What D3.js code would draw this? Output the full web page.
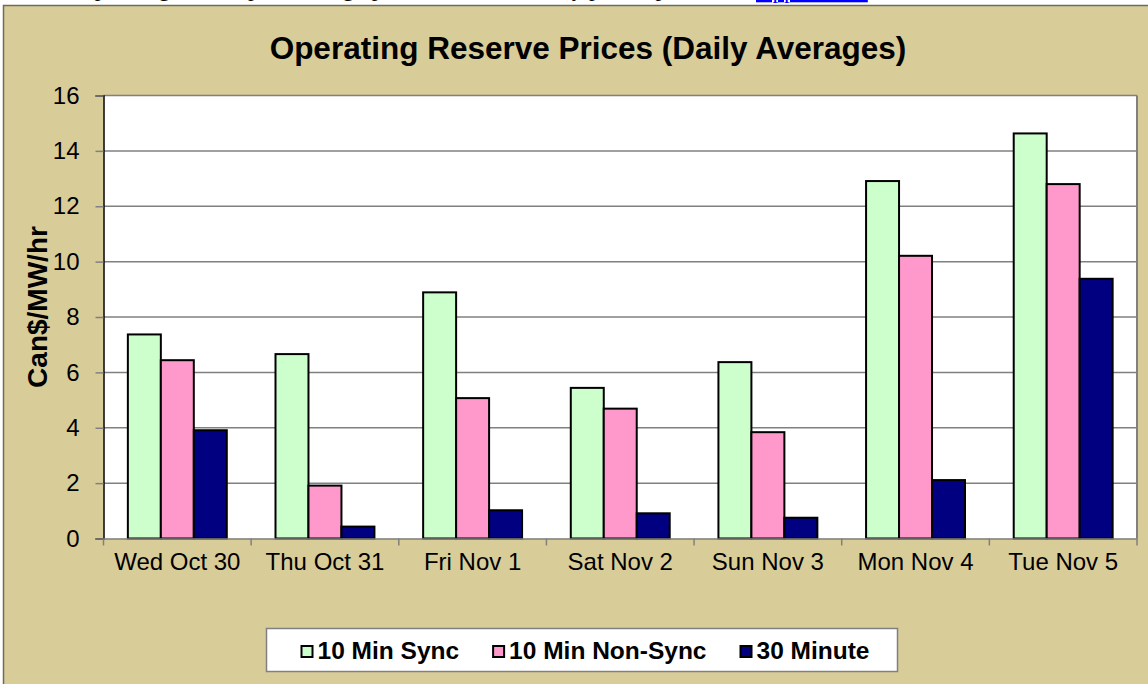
<!DOCTYPE html>
<html>
<head>
<meta charset="utf-8">
<script src="https://cdn.jsdelivr.net/npm/d3@7"></script>
<style>
  html, body { margin: 0; padding: 0; background: #fff; }
  svg { display: block; }
</style>
</head>
<body>
<svg width="1148" height="684"></svg>
<script>
// daily averages, Can$/MW/hr
const days = ['Wed Oct 30', 'Thu Oct 31', 'Fri Nov 1', 'Sat Nov 2', 'Sun Nov 3', 'Mon Nov 4', 'Tue Nov 5'];
const seriesNames = ['10 Min Sync', '10 Min Non-Sync', '30 Minute'];
const sync10 = [7.37, 6.66, 8.89, 5.44, 6.37, 12.91, 14.63];
const nonSync10 = [6.44, 1.91, 5.07, 4.69, 3.84, 10.21, 12.80];
const min30 = [3.91, 0.43, 1.02, 0.91, 0.75, 2.11, 9.38];
const yTicks = [0, 2, 4, 6, 8, 10, 12, 14, 16];

const colors = ['#ccffcc', '#ff99cc', '#000080'];
const values = [sync10, nonSync10, min30];
const rows = days.map((d, i) => ({ day: d, vals: values.map(v => v[i]) }));

const svg = d3.select('svg');
const font = 'Arial, "Liberation Sans", sans-serif';

// scrap of the document text above the chart (mostly cut off)
svg.append('text')
  .attr('x', 748).attr('y', -4)
  .attr('text-anchor', 'end')
  .attr('font-family', '"Liberation Serif", "Times New Roman", serif')
  .attr('font-size', 23)
  .text('Operating reserve prices are graphed below; for hourly prices, please see');
svg.append('text')
  .attr('x', 756).attr('y', -2)
  .attr('font-family', '"Liberation Serif", "Times New Roman", serif')
  .attr('font-size', 23)
  .attr('fill', '#0000ff')
  .attr('text-decoration', 'underline')
  .text('Appendix A');

// chart frame
svg.append('rect')
  .attr('x', 3.5).attr('y', 5.5)
  .attr('width', 1200).attr('height', 700)
  .attr('fill', '#d8cc99')
  .attr('stroke', '#6e6b5c')
  .attr('stroke-width', 1.5);

const left = 103.5, right = 1137, plotTop = 95.5, plotBottom = 538.5;

const x0 = d3.scaleBand().domain(days).range([left, right]).padding(0);
const bw = x0.bandwidth();
const x1 = d3.scaleBand().domain(seriesNames).range([bw * 0.165, bw * 0.835]).padding(0);
const y = d3.scaleLinear().domain([0, 16]).range([plotBottom, plotTop]);

// plot area
svg.append('rect')
  .attr('x', left).attr('y', plotTop)
  .attr('width', right - left).attr('height', plotBottom - plotTop)
  .attr('fill', '#fff');

// grid
svg.append('g')
  .selectAll('line')
  .data(yTicks.filter(t => t > 0))
  .join('line')
  .attr('x1', left).attr('x2', right)
  .attr('y1', d => y(d)).attr('y2', d => y(d))
  .attr('stroke', '#808080')
  .attr('stroke-width', 1.5);

// right border
svg.append('line')
  .attr('x1', right).attr('x2', right)
  .attr('y1', plotTop).attr('y2', plotBottom)
  .attr('stroke', '#808080').attr('stroke-width', 2);

// bars
const groups = svg.append('g')
  .selectAll('g')
  .data(rows)
  .join('g')
  .attr('transform', d => `translate(${x0(d.day)},0)`);

groups.selectAll('rect')
  .data(d => d.vals.map((v, i) => ({ name: seriesNames[i], v, i })))
  .join('rect')
  .attr('x', d => x1(d.name))
  .attr('y', d => y(d.v))
  .attr('width', x1.bandwidth())
  .attr('height', d => y(0) - y(d.v))
  .attr('fill', d => colors[d.i])
  .attr('stroke', '#000')
  .attr('stroke-width', 2);

// y axis
const yAxis = svg.append('g')
  .attr('transform', `translate(${left},0)`)
  .call(d3.axisLeft(y).tickValues(yTicks).tickSize(8).tickPadding(16));
yAxis.select('.domain').attr('stroke', '#000').attr('stroke-width', 1.5);
yAxis.selectAll('.tick line').attr('stroke', '#808080').attr('stroke-width', 1.5);
yAxis.selectAll('.tick text')
  .attr('font-family', font).attr('font-size', 24).attr('fill', '#000');

// x axis
const xAxis = svg.append('g')
  .attr('transform', `translate(0,${plotBottom})`)
  .call(d3.axisBottom(x0).tickSize(0).tickPadding(14));
xAxis.select('.domain').attr('stroke', '#808080').attr('stroke-width', 1.5);
xAxis.selectAll('.tick text')
  .attr('font-family', font).attr('font-size', 24).attr('fill', '#000');

svg.append('g')
  .selectAll('line')
  .data(days.concat(['end']))
  .join('line')
  .attr('x1', d => d === 'end' ? right : x0(d))
  .attr('x2', d => d === 'end' ? right : x0(d))
  .attr('y1', plotBottom).attr('y2', plotBottom + 7)
  .attr('stroke', '#808080').attr('stroke-width', 1.5);

// title
svg.append('text')
  .attr('x', 588).attr('y', 59)
  .attr('text-anchor', 'middle')
  .attr('font-family', font).attr('font-weight', 'bold').attr('font-size', 31.5)
  .text('Operating Reserve Prices (Daily Averages)');

// y label
svg.append('text')
  .attr('transform', `translate(47,307) rotate(-90)`)
  .attr('text-anchor', 'middle')
  .attr('font-family', font).attr('font-weight', 'bold').attr('font-size', 28)
  .text('Can$/MW/hr');

// legend
const legend = svg.append('g');
legend.append('rect')
  .attr('x', 266.5).attr('y', 628.5)
  .attr('width', 631).attr('height', 43)
  .attr('fill', '#fff')
  .attr('stroke', '#808080').attr('stroke-width', 1.5);

const items = legend.selectAll('g.item')
  .data(seriesNames)
  .join('g')
  .attr('class', 'item');
items.append('rect')
  .attr('width', 11).attr('height', 11)
  .attr('y', 646)
  .attr('fill', (d, i) => colors[i])
  .attr('stroke', '#000').attr('stroke-width', 2);
items.append('text')
  .attr('y', 658.5)
  .attr('font-family', font).attr('font-weight', 'bold').attr('font-size', 24.5)
  .text(d => d);

let cx = 0;
const offsets = [];
items.each(function () {
  const w = d3.select(this).select('text').node().getComputedTextLength();
  offsets.push(cx);
  cx += 16 + w + 34;
});
const total = cx - 34;
const start = 585.5 - total / 2;
items.each(function (d, i) {
  const g = d3.select(this);
  g.select('rect').attr('x', start + offsets[i]);
  g.select('text').attr('x', start + offsets[i] + 16);
});
</script>
</body>
</html>
